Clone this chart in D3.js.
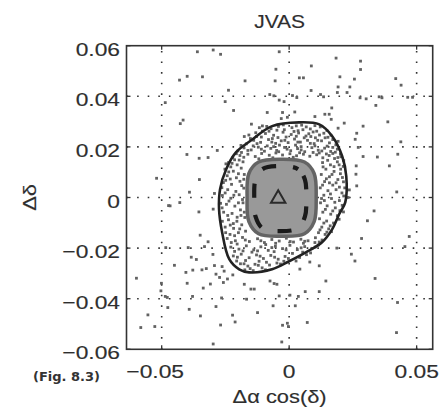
<!DOCTYPE html>
<html>
<head>
<meta charset="utf-8">
<script src="https://cdn.jsdelivr.net/npm/d3@7"></script>
<style>
  body { margin: 0; background: #fff; }
  text { fill: #2e2e2e; }
</style>
</head>
<body>
<div id="chart"></div>
<script>

// --------------------------------------
//  Data
// --------------------------------------

const xTicks = [-0.05, 0, 0.05];
const yTicks = [-0.06, -0.04, -0.02, 0, 0.02, 0.04, 0.06];
const xTickLabels = ["\u22120.05", "0", "0.05"];
const yTickLabels = ["\u22120.06", "\u22120.04", "\u22120.02", "0", "0.02", "0.04", "0.06"];

// scattered points outside the dense core
const sparsePoints = [
  [-0.036,0.0576],[-0.0298,0.0583],[-0.0269,0.0566],[-0.043,0.0464],[-0.040,0.0479],[-0.034,0.0477],
  [-0.0238,0.0424],[-0.0251,0.0379],[-0.0218,0.0344],[-0.0486,0.0375],[-0.0427,0.0292],[-0.0416,0.0306],
  [-0.0176,0.0241],[-0.0401,0.0170],[-0.0353,0.0155],[-0.0318,0.0158],[-0.0282,0.0186],[-0.0248,0.0133],
  [-0.052,0.0076],[-0.0352,0.0071],[-0.0293,0.0016],[-0.0391,0.0021],[-0.0473,-0.0032],[-0.0429,-0.0020],
  [-0.0173,0.0461],[-0.0039,0.0576],[0.0184,0.0551],[0.028,0.0539],[0.028,0.0506],[0.0087,0.052],
  [-0.0052,0.0507],[-0.0055,0.0461],[0.004,0.0473],[0.0056,0.0473],[0.0199,0.0477],[0.0256,0.0468],
  [0.0418,0.047],[0.0439,0.0444],[0.0192,0.0437],[0.0238,0.0437],[0.0086,0.0423],[0.0189,0.0415],
  [0.0227,0.0415],[0.0123,0.0407],[0.0135,0.0398],[0.0013,0.0403],[0.003,0.0395],[-0.0076,0.0407],
  [-0.006,0.0402],[-0.0039,0.0385],[-0.002,0.0379],[0.0278,0.0394],[0.0302,0.039],[0.0353,0.0398],
  [0.0364,0.0394],[0.0465,0.0396],[0.0484,0.0396],[0.034,0.0364],[0.0387,0.0299],[0.0438,0.022],
  [0.0426,0.0171],[0.0393,0.0125],[0.029,0.0282],[0.0346,0.016],[0.029,0.0162],[0.0271,0.0198],
  [0.0259,0.023],[0.0265,0.0254],[0.0216,0.0294],[0.0192,0.0274],[0.0167,0.0354],[0.0157,0.0329],
  [0.0165,0.0309],[0.014,0.0329],[0.0101,0.032],[0.0022,0.0338],[-0.0007,0.0317],[-0.0031,0.0312],
  [-0.0026,0.0336],[-0.0086,0.0336],[-0.0148,0.029],[-0.0105,0.0283],[0.0263,0.0125],[0.0262,0.0092],
  [0.0265,0.0046],[0.0236,0.003],[0.0422,0.0022],[0.0231,0.0],[-0.0467,-0.0033],[-0.0354,-0.0057],
  [-0.0298,-0.0046],[-0.0349,-0.0149],[-0.0318,-0.0175],[-0.0332,-0.0194],[-0.0299,-0.0225],[-0.0396,-0.0198],
  [-0.0484,-0.0198],[-0.0384,-0.0236],[-0.0364,-0.0245],[-0.045,-0.0268],[-0.0405,-0.0296],[-0.0378,-0.0287],
  [-0.0342,-0.0286],[-0.0325,-0.0281],[-0.0293,-0.0269],[-0.0263,-0.0273],[-0.0255,-0.0291],[-0.0287,-0.0303],
  [-0.0273,-0.0316],[-0.0242,-0.0322],[-0.0221,-0.0306],[-0.04,-0.0339],[-0.0258,-0.0336],[-0.0309,-0.0342],
  [-0.0337,-0.0358],[-0.0599,-0.0319],[-0.0501,-0.0339],[-0.0503,-0.0369],[-0.0486,-0.0391],[-0.0478,-0.0395],
  [-0.0476,-0.0435],[-0.0379,-0.0391],[-0.0265,-0.0397],[-0.0287,-0.0431],[-0.0392,-0.0442],[-0.0348,-0.0468],
  [-0.0554,-0.0464],[-0.0582,-0.0514],[-0.0527,-0.051],[-0.0269,-0.0504],[-0.0222,-0.0465],[-0.0212,-0.0492],
  [-0.0298,-0.0579],[-0.0029,-0.0571],[0.0333,-0.0053],[0.0307,-0.0092],[0.0284,-0.0162],[0.0213,-0.0057],
  [0.0187,-0.02],[0.0244,-0.0224],[0.0258,-0.0251],[0.0471,-0.0154],[0.0454,-0.0194],[0.0337,-0.032],
  [0.0081,-0.0255],[0.0118,-0.027],[0.0042,-0.0283],[0.0144,-0.033],[0.0118,-0.0372],[0.0063,-0.0372],
  [0.0036,-0.0391],[0.0024,-0.0428],[0.0003,-0.0386],[-0.0039,-0.0389],[-0.0063,-0.0428],[-0.0048,-0.0343],
  [-0.0059,-0.034],[-0.0075,-0.033],[-0.0124,-0.0455],[-0.0176,-0.0343],[-0.015,-0.0362],[-0.0137,-0.0362],
  [-0.0167,-0.0402],[-0.0026,-0.0505],[-0.0007,-0.0497],[-0.0003,-0.051],[0.0071,-0.0494],[0.0425,-0.0415],
  [0.0421,-0.0534]
];

// dense ring of points between the outer contour and the grey core
const ringPoints = [
  [-0.0071,0.0272],[-0.0042,0.0281],[0.0011,0.0276],[0.0049,0.0286],[0.0083,0.0271],[0.0122,0.0279],[-0.0105,0.0262],[0.0148,0.0265],
  [-0.0128,0.0241],[-0.0093,0.0253],[-0.0061,0.0246],[-0.0024,0.0258],[0.0008,0.0249],[0.0037,0.0255],[0.0066,0.0243],[0.0094,0.0259],
  [0.0119,0.0247],[0.0152,0.0238],[0.0171,0.0229],
  [-0.0168,0.0212],[-0.0139,0.0226],[-0.0112,0.0218],[-0.0081,0.0229],[-0.0053,0.0214],[-0.0031,0.0224],[-0.0004,0.0217],[0.0021,0.0231],
  [0.0044,0.0219],[0.0072,0.0226],[0.0098,0.0213],[0.0127,0.0224],[0.0158,0.0216],[0.0183,0.0208],[-0.0152,0.0233],[0.0059,0.0236],
  [-0.0201,0.0184],[-0.0177,0.0196],[-0.0149,0.0188],[-0.0121,0.0199],[-0.0097,0.0183],[-0.0072,0.0194],[-0.0049,0.0186],[-0.0018,0.0198],
  [0.0006,0.0185],[0.0033,0.0193],[0.0061,0.0181],[0.0089,0.0197],[0.0114,0.0187],[0.0139,0.0195],[0.0163,0.0182],[0.0189,0.0191],
  [0.0201,0.0172],[-0.0086,0.0204],[0.0025,0.0207],
  [-0.0221,0.0158],[-0.0193,0.0166],[-0.0162,0.0171],[-0.0133,0.0162],[-0.0108,0.0174],[-0.0078,0.0167],[-0.0052,0.0176],[-0.0026,0.0168],
  [0.0003,0.0173],[0.0029,0.0165],[0.0056,0.0171],[0.0081,0.0163],[0.0108,0.0169],[0.0132,0.0157],[0.0157,0.0166],[0.0178,0.0154],[0.0203,0.0161],
  [0.0131,0.0138],[0.0162,0.0129],[0.0189,0.0141],[0.0212,0.0123],[0.0144,0.0112],[0.0176,0.0103],[0.0201,0.0094],[0.0126,0.0091],
  [0.0158,0.0082],[0.0191,0.0071],[0.0213,0.0062],[0.0139,0.0063],[0.0171,0.0049],[0.0122,0.0038],[0.0152,0.0027],[0.0184,0.0031],
  [0.0207,0.0018],[0.0136,0.0009],[0.0166,-0.0004],[0.0197,-0.0012],[0.0123,-0.0021],[0.0149,-0.0033],[0.0181,-0.0041],[0.0132,-0.0058],
  [0.0163,-0.0066],[0.0189,-0.0072],[0.0119,-0.0084],[0.0147,-0.0093],[0.0174,-0.0101],[0.0128,-0.0117],[0.0155,-0.0124],[0.0115,-0.0139],
  [0.0141,-0.0146],[0.0166,-0.0135],
  [-0.0238,0.0138],[-0.0204,0.0129],[-0.0181,0.0141],[-0.0252,0.0112],[-0.0219,0.0104],[-0.0188,0.0116],[-0.0243,0.0086],[-0.0207,0.0078],
  [-0.0176,0.0091],[-0.0258,0.0059],[-0.0226,0.0052],[-0.0193,0.0064],[-0.0241,0.0031],[-0.0209,0.0024],[-0.0178,0.0037],[-0.0262,0.0008],
  [-0.0229,-0.0003],[-0.0196,0.0011],[-0.0246,-0.0027],[-0.0213,-0.0034],[-0.0181,-0.0021],[-0.0257,-0.0058],[-0.0224,-0.0063],[-0.0191,-0.0049],
  [-0.0238,-0.0088],[-0.0205,-0.0094],[-0.0174,-0.0079],[-0.0251,-0.0117],[-0.0218,-0.0122],[-0.0186,-0.0108],[-0.0232,-0.0146],[-0.0199,-0.0139],
  [-0.0171,-0.0133],
  [-0.0243,-0.0162],[-0.0211,-0.0171],[-0.0183,-0.0158],[-0.0156,-0.0174],[-0.0124,-0.0163],[-0.0097,-0.0178],[-0.0068,-0.0166],[-0.0039,-0.0172],
  [-0.0011,-0.0161],[0.0017,-0.0176],[0.0046,-0.0165],[0.0074,-0.0171],[0.0103,-0.0159],[0.0129,-0.0168],
  [-0.0229,-0.0196],[-0.0197,-0.0204],[-0.0168,-0.0191],[-0.0139,-0.0207],[-0.0111,-0.0195],[-0.0082,-0.0209],[-0.0054,-0.0193],[-0.0026,-0.0202],
  [0.0003,-0.0189],[0.0032,-0.0206],[0.0061,-0.0194],[0.0089,-0.0201],[0.0114,-0.0188],
  [-0.0219,-0.0231],[-0.0188,-0.0224],[-0.0157,-0.0238],[-0.0128,-0.0227],[-0.0101,-0.0241],[-0.0072,-0.0229],[-0.0043,-0.0244],[-0.0016,-0.0233],
  [0.0013,-0.0221],[0.0041,-0.0237],[0.0068,-0.0226],
  [-0.0191,-0.0262],[-0.0162,-0.0271],[-0.0134,-0.0264],[-0.0106,-0.0278],[-0.0077,-0.0267],[-0.0048,-0.0259],[-0.0021,-0.0252],[-0.0174,-0.0286],[-0.0141,-0.0289],
  [-0.0117,0.0276],[-0.0019,0.0268],[0.0035,0.0264],[0.0103,0.0236],[-0.0066,0.0233],[-0.0141,0.0204],[0.0047,0.0201],[0.0149,0.0203],
  [-0.0038,0.0207],[0.0118,0.0176],[-0.0187,0.0178],[0.0171,0.0174],[-0.0012,0.0239],[0.0077,0.0252],[-0.0109,0.0239],[0.0192,0.0222],
  [0.0214,0.0146],[-0.0214,0.0149],[0.0016,0.0159],[-0.0064,0.0157],
  [0.0202,0.0112],[0.0218,0.0038],[0.0176,0.0122],[0.0199,-0.0052],[0.0138,-0.0012],[0.0158,0.0058],[0.0208,-0.0031],
  [-0.0263,-0.0041],[-0.0249,0.0068],[-0.0229,0.0121],[-0.0189,-0.0071],[-0.0219,-0.0103],[-0.0178,0.0072],
  [-0.0206,-0.0251],[-0.0118,-0.0252],[0.0027,-0.0251],[0.0084,-0.0219],[-0.0092,-0.0186],[-0.0204,-0.0184],[0.0056,-0.0181],[-0.0146,-0.0216],
  [-0.0059,-0.0214],[0.0101,-0.0178],
  [-0.0088,0.0281],[-0.0023,0.0287],[0.0028,0.0283],[0.0067,0.0279],[0.0101,0.0284],[-0.0131,0.0256],[-0.0079,0.0262],[-0.0048,0.0266],
  [0.0019,0.0261],[0.0054,0.0268],[0.0108,0.0262],[0.0136,0.0254],[-0.0158,0.0247],[-0.0044,0.0237],[0.0028,0.0242],[0.0085,0.0241],
  [0.0141,0.0236],[0.0164,0.0246],[-0.0189,0.0206],[-0.0126,0.0213],[-0.0068,0.0219],[-0.0017,0.0226],[0.0034,0.0219],[0.0083,0.0214],
  [0.0112,0.0226],[0.0171,0.0198],[-0.0207,0.0173],[-0.0162,0.0186],[-0.0109,0.0191],[-0.0061,0.0201],[-0.0008,0.0191],[0.0047,0.0188],
  [0.0101,0.0204],[0.0128,0.0184],[0.0181,0.0179],[-0.0178,0.0159],[-0.0119,0.0153],[-0.0041,0.0181],[0.0041,0.0177],[0.0094,0.0178],
  [0.0146,0.0172],[0.0191,0.0158],
  [0.0151,0.0147],[0.0196,0.0129],[0.0133,0.0121],[0.0168,0.0091],[0.0209,0.0079],[0.0146,0.0074],[0.0184,0.0058],[0.0131,0.0049],
  [0.0197,0.0041],[0.0162,0.0014],[0.0214,0.0006],[0.0127,-0.0004],[0.0179,-0.0019],[0.0142,-0.0047],[0.0171,-0.0053],[0.0196,-0.0086],
  [0.0136,-0.0101],[0.0161,-0.0112],[0.0121,-0.0128],[0.0148,-0.0137],
  [-0.0224,0.0135],[-0.0196,0.0148],[-0.0237,0.0101],[-0.0199,0.0094],[-0.0264,0.0039],[-0.0231,0.0073],[-0.0186,0.0047],[-0.0251,0.0018],
  [-0.0217,0.0009],[-0.0183,-0.0008],[-0.0236,-0.0014],[-0.0199,-0.0021],[-0.0269,-0.0023],[-0.0241,-0.0071],[-0.0204,-0.0078],[-0.0176,-0.0058],
  [-0.0262,-0.0094],[-0.0231,-0.0109],[-0.0194,-0.0124],[-0.0249,-0.0139],[-0.0214,-0.0151],
  [-0.0227,-0.0178],[-0.0172,-0.0168],[-0.0111,-0.0171],[-0.0053,-0.0181],[0.0004,-0.0174],[0.0061,-0.0173],[0.0118,-0.0176],[-0.0214,-0.0213],
  [-0.0181,-0.0211],[-0.0124,-0.0211],[-0.0068,-0.0198],[-0.0012,-0.0207],[0.0047,-0.0199],[0.0102,-0.0196],[-0.0203,-0.0236],[-0.0171,-0.0249],
  [-0.0114,-0.0232],[-0.0057,-0.0236],[-0.0003,-0.0241],[0.0053,-0.0216],[-0.0177,-0.0262],[-0.0121,-0.0268],[-0.0089,-0.0256],[-0.0034,-0.0263],
  [-0.0153,-0.0281],[-0.0093,-0.0286]
];

// contours
const outerContour = [
  [0.0039,0.0297],[0.0118,0.0289],[0.0169,0.0242],[0.0208,0.0163],[0.0224,0.0084],[0.0220,-0.0019],
  [0.0196,-0.0066],[0.0169,-0.0125],[0.0129,-0.0177],[0.0067,-0.0216],[0.0,-0.0252],[-0.0067,-0.0284],
  [-0.0157,-0.0296],[-0.0196,-0.0284],[-0.0235,-0.0244],[-0.0263,-0.0137],[-0.0275,-0.0046],[-0.0271,0.0033],
  [-0.0247,0.0112],[-0.0208,0.0179],[-0.0150,0.0225],[-0.0067,0.0282]
];
const greyContour = [
  [-0.003,0.0151],[0.006,0.0140],[0.0098,0.0095],[0.0106,0],[0.0098,-0.0095],[0.006,-0.0143],
  [-0.003,-0.0153],[-0.012,-0.0143],[-0.0158,-0.0095],[-0.0165,0],[-0.0158,0.0095],[-0.012,0.0140]
];
const dashedContour = [
  [-0.0035,0.0124],[0.0035,0.0112],[0.0062,0.0070],[0.0067,0],[0.0062,-0.0075],[0.0035,-0.0121],
  [-0.0035,-0.0133],[-0.0105,-0.0121],[-0.0132,-0.0075],[-0.0137,0],[-0.0132,0.0070],[-0.0105,0.0112]
];
const centre = [-0.0043, 0.0];

// --------------------------------------
//  Canvas and scales
// --------------------------------------

const width = 441;
const height = 413;

const svg = d3.select("#chart")
  .append("svg")
    .attr("width", width)
    .attr("height", height)
    .style("font-family", "'Liberation Sans', Arial, sans-serif");

const x = d3.scaleLinear()
    .domain([-0.0638, 0.0563])
    .range([126.5, 432.7]);

const y = d3.scaleLinear()
    .domain([-0.06, 0.06])
    .range([349.3, 45.7]);

const [x0, x1] = x.range();
const [y0, y1] = y.range();

// grid (dotted)
svg.append("g")
  .selectAll("line")
  .data(xTicks)
  .join("line")
    .attr("x1", d => x(d)).attr("x2", d => x(d))
    .attr("y1", y0).attr("y2", y1)
    .attr("stroke", "#333")
    .attr("stroke-width", 1.6)
    .attr("stroke-dasharray", "1.6,9");

svg.append("g")
  .selectAll("line")
  .data(yTicks.slice(1, -1))
  .join("line")
    .attr("x1", x0).attr("x2", x1)
    .attr("y1", d => y(d)).attr("y2", d => y(d))
    .attr("stroke", "#333")
    .attr("stroke-width", 1.6)
    .attr("stroke-dasharray", "1.6,9");

// points
const pts = sparsePoints.concat(ringPoints);
svg.append("g")
  .selectAll("rect")
  .data(pts)
  .join("rect")
    .attr("x", d => x(d[0]) - 1.4)
    .attr("y", d => y(d[1]) - 1.4)
    .attr("width", 2.8)
    .attr("height", 2.8)
    .attr("fill", "#626262");

const line = d3.line()
    .x(d => x(d[0]))
    .y(d => y(d[1]))
    .curve(d3.curveCatmullRomClosed);

// dense grey core
svg.append("path")
    .attr("d", line(greyContour))
    .attr("fill", "#999")
    .attr("stroke", "#646464")
    .attr("stroke-width", 3.5);

// outer contour
svg.append("path")
    .attr("d", line(outerContour))
    .attr("fill", "none")
    .attr("stroke", "#222")
    .attr("stroke-width", 2.6);

// dashed contour
svg.append("path")
    .attr("d", line(dashedContour))
    .attr("fill", "none")
    .attr("stroke", "#1a1a1a")
    .attr("stroke-width", 4.2)
    .attr("stroke-dasharray", "14,17")
    .attr("stroke-dashoffset", 22.5);

// centre triangle
svg.append("path")
    .attr("d", d3.symbol(d3.symbolTriangle, 90)())
    .attr("transform", `translate(${x(centre[0])},${y(centre[1]) + 1})`)
    .attr("fill", "#999")
    .attr("stroke", "#2a2a2a")
    .attr("stroke-width", 2);

// frame and inward ticks
svg.append("rect")
    .attr("x", x0).attr("y", y1)
    .attr("width", x1 - x0).attr("height", y0 - y1)
    .attr("fill", "none")
    .attr("stroke", "#333")
    .attr("stroke-width", 1.6);

const tickLen = 4;
const tk = svg.append("g").attr("stroke", "#333").attr("stroke-width", 1.3);
xTicks.forEach(d => {
  tk.append("line").attr("x1", x(d)).attr("x2", x(d)).attr("y1", y0).attr("y2", y0 - tickLen);
  tk.append("line").attr("x1", x(d)).attr("x2", x(d)).attr("y1", y1).attr("y2", y1 + tickLen);
});
yTicks.forEach(d => {
  tk.append("line").attr("x1", x0).attr("x2", x0 + tickLen).attr("y1", y(d)).attr("y2", y(d));
  tk.append("line").attr("x1", x1).attr("x2", x1 - tickLen).attr("y1", y(d)).attr("y2", y(d));
});

// tick labels
const labels = svg.append("g")
    .attr("stroke", "#2e2e2e")
    .attr("stroke-width", 0.15);

labels.append("g")
  .selectAll("text")
  .data(xTicks)
  .join("text")
    .attr("transform", d => `translate(${x(d) - (d < 0 ? 6.5 : 0)},377.5) scale(1.2,1)`)
    .attr("text-anchor", "middle")
    .attr("font-size", 19)
    .text((d, i) => xTickLabels[i]);

labels.append("g")
  .selectAll("text")
  .data(yTicks)
  .join("text")
    .attr("transform", d => `translate(120,${y(d) + 10}) scale(1.2,1)`)
    .attr("text-anchor", "end")
    .attr("font-size", 19)
    .text((d, i) => yTickLabels[i]);

// titles
labels.append("text")
    .attr("transform", `translate(${(x0 + x1) / 2},27.7) scale(1.2,1)`)
    .attr("text-anchor", "middle")
    .attr("font-size", 17.5)
    .text("JVAS");

labels.append("text")
    .attr("transform", `translate(${(x0 + x1) / 2},403) scale(1.15,1)`)
    .attr("text-anchor", "middle")
    .attr("font-size", 19)
    .text("\u0394\u03b1 cos(\u03b4)");

labels.append("text")
    .attr("transform", `translate(36,${(y0 + y1) / 2}) rotate(-90) scale(1.15,1)`)
    .attr("text-anchor", "middle")
    .attr("font-size", 19)
    .text("\u0394\u03b4");

svg.append("text")
    .attr("x", 33)
    .attr("y", 381)
    .style("font-family", "'DejaVu Sans', Verdana, sans-serif")
    .style("font-weight", "bold")
    .style("font-size", "13px")
    .style("fill", "#333")
    .text("(Fig. 8.3)");

</script>
</body>
</html>
